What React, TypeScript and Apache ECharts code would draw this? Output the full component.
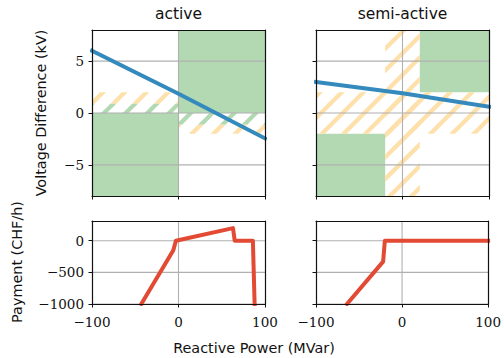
import React, { useEffect, useRef } from "react";
import * as echarts from "echarts";

const xTicks = [-100, 0, 100];
const voltTicks = [-5, 0, 5];
const payTicks = [-1000, -500, 0];
const xGridValues = [0];
const panelTitles = ["active", "semi-active"];
const xAxisTitle = "Reactive Power (MVar)";
const voltTitle = "Voltage Difference (kV)";
const payTitle = "Payment (CHF/h)";

// rectangles as [x0, x1, y0, y1]
const activeGreen = [[0, 100, 0, 8], [-100, 0, -8, 0]];
const activeHatchOrange = [[-100, 0, 0.9, 2], [0, 100, -2, -1.1]];
const activeHatchGreen = [[-100, 0, 0, 0.9], [0, 100, -1.1, 0]];
const semiGreen = [[20, 100, 2, 8], [-100, -20, -8, -2]];
const semiHatchOrange = [[-20, 20, -8, 8], [-100, 100, -2, 2]];

const activeVoltage = [[-100, 6.0], [0, 1.85], [100, -2.45]];
const semiVoltage = [[-100, 3.0], [0, 1.9], [100, 0.6]];
const activePayment = [[-43, -1000], [-6, -150], [-3, 0], [63, 200], [65, 0], [86, 0], [88, -1000]];
const semiPayment = [[-64, -1000], [-22, -330], [-20, 0], [100, 0]];

const GREEN = "#b3d9b3";
const ORANGE = "#fee0aa";
const BLUE = "#348ABD";
const RED = "#E24A33";
const GRIDC = "#b0b0b0";
const INK = "#111111";

const L1 = 92, L2 = 316, W = 173, T1 = 30, H1 = 166, T2 = 221, H2 = 83;
const P = 21.7, HW = 3;

const fmt = (v: number) => String(v).replace("-", "\u2212");

function clipPoly(poly: number[][], f: (p: number[]) => number) {
  const out: number[][] = [];
  for (let i = 0; i < poly.length; i++) {
    const a = poly[i];
    const b = poly[(i + 1) % poly.length];
    const fa = f(a), fb = f(b);
    if (fa >= 0 && fb >= 0) out.push(b);
    else if (fa >= 0 && fb < 0) {
      const t = fa / (fa - fb);
      out.push([a[0] + t * (b[0] - a[0]), a[1] + t * (b[1] - a[1])]);
    } else if (fa < 0 && fb >= 0) {
      const t = fa / (fa - fb);
      out.push([a[0] + t * (b[0] - a[0]), a[1] + t * (b[1] - a[1])]);
      out.push(b);
    }
  }
  return out;
}

function fillSeries(data: number[][], color: string, idx: number) {
  return {
    type: "custom",
    xAxisIndex: idx,
    yAxisIndex: idx,
    z: 1,
    silent: true,
    encode: { x: [0, 1], y: [2, 3] },
    data,
    renderItem: (_p: any, api: any) => {
      const a = api.coord([api.value(0), api.value(3)]);
      const b = api.coord([api.value(1), api.value(2)]);
      return {
        type: "rect",
        shape: { x: a[0], y: a[1], width: b[0] - a[0], height: b[1] - a[1] },
        style: { fill: color },
      };
    },
  };
}

function hatchSeries(data: number[][], color: string, idx: number) {
  return {
    type: "custom",
    xAxisIndex: idx,
    yAxisIndex: idx,
    z: 1,
    silent: true,
    encode: { x: [0, 1], y: [2, 3] },
    data,
    renderItem: (_p: any, api: any) => {
      const a = api.coord([api.value(0), api.value(3)]);
      const b = api.coord([api.value(1), api.value(2)]);
      const Lx = a[0], Ty = a[1], Rx = b[0], By = b[1];
      const rect = [[Lx, Ty], [Rx, Ty], [Rx, By], [Lx, By]];
      const children: any[] = [];
      const k0 = Math.floor((Lx + Ty - HW) / P);
      const k1 = Math.ceil((Rx + By + HW) / P);
      for (let k = k0; k <= k1; k++) {
        const c = k * P;
        let poly = clipPoly(rect, (p) => p[0] + p[1] - (c - HW));
        poly = clipPoly(poly, (p) => c + HW - (p[0] + p[1]));
        if (poly.length >= 3) {
          children.push({ type: "polygon", shape: { points: poly }, style: { fill: color } });
        }
      }
      return { type: "group", children };
    },
  };
}

function hGridSeries(vals: number[], idx: number) {
  return {
    type: "custom",
    xAxisIndex: idx,
    yAxisIndex: idx,
    z: 2,
    silent: true,
    data: vals.map((v) => [0, v]),
    renderItem: (params: any, api: any) => {
      const y = api.coord([0, api.value(1)])[1];
      const cs = params.coordSys;
      return {
        type: "line",
        shape: { x1: cs.x, y1: y, x2: cs.x + cs.width, y2: y },
        style: { stroke: GRIDC, lineWidth: 1.1 },
      };
    },
  };
}

function vGridSeries(vals: number[], idx: number) {
  return {
    type: "custom",
    xAxisIndex: idx,
    yAxisIndex: idx,
    z: 2,
    silent: true,
    data: vals.map((v) => [v, 0]),
    renderItem: (params: any, api: any) => {
      const x = api.coord([api.value(0), 0])[0];
      const cs = params.coordSys;
      return {
        type: "line",
        shape: { x1: x, y1: cs.y, x2: x, y2: cs.y + cs.height },
        style: { stroke: GRIDC, lineWidth: 1.1 },
      };
    },
  };
}

function lineSeries(data: number[][], color: string, idx: number) {
  return {
    type: "line",
    xAxisIndex: idx,
    yAxisIndex: idx,
    z: 3,
    data,
    showSymbol: false,
    symbol: "none",
    clip: true,
    lineStyle: { color, width: 4, join: "round", cap: "square" },
    silent: true,
  };
}

const labelStyle = { fontFamily: "'DejaVu Serif', serif", fontSize: 13.5, color: INK };

function bottomX(gi: number, show: boolean) {
  return {
    gridIndex: gi,
    type: "value",
    min: -100,
    max: 100,
    interval: 100,
    position: "bottom",
    z: 10,
    axisLine: { show: true, onZero: false, lineStyle: { color: INK, width: 1.2 } },
    axisTick: { show: true, length: 3.5, lineStyle: { color: INK, width: 1 }, customValues: xTicks },
    axisLabel: { show: show, formatter: fmt, margin: 11, customValues: xTicks, ...labelStyle },
    splitLine: { show: false },
  };
}
function topX(gi: number) {
  return {
    gridIndex: gi,
    type: "value",
    min: -100,
    max: 100,
    position: "top",
    z: 10,
    axisLine: { show: true, onZero: false, lineStyle: { color: INK, width: 1.2 } },
    axisTick: { show: false },
    axisLabel: { show: false },
    splitLine: { show: false },
  };
}
function leftY(gi: number, min: number, max: number, ticks: number[], show: boolean) {
  return {
    gridIndex: gi,
    type: "value",
    min,
    max,
    position: "left",
    z: 10,
    axisLine: { show: true, onZero: false, lineStyle: { color: INK, width: 1.2 } },
    axisTick: { show: true, length: 3.5, lineStyle: { color: INK, width: 1 }, customValues: ticks },
    axisLabel: { show: show, formatter: fmt, margin: 8, customValues: ticks, ...labelStyle },
    splitLine: { show: false },
  };
}
function rightY(gi: number, min: number, max: number) {
  return {
    gridIndex: gi,
    type: "value",
    min,
    max,
    position: "right",
    z: 10,
    axisLine: { show: true, onZero: false, lineStyle: { color: INK, width: 1.2 } },
    axisTick: { show: false },
    axisLabel: { show: false },
    splitLine: { show: false },
  };
}

export default function App() {
  const ref = useRef<HTMLDivElement>(null);
  useEffect(() => {
    if (!ref.current) return;
    const chart = echarts.init(ref.current, null, { renderer: "svg" });
    const sans = "DejaVu Sans";
    const option: any = {
      animation: false,
      backgroundColor: "#ffffff",
      grid: [
        { left: L1, top: T1, width: W, height: H1 },
        { left: L2, top: T1, width: W, height: H1 },
        { left: L1, top: T2, width: W, height: H2 },
        { left: L2, top: T2, width: W, height: H2 },
      ],
      xAxis: [
        bottomX(0, false), bottomX(1, false), bottomX(2, true), bottomX(3, true),
        topX(0), topX(1), topX(2), topX(3),
      ],
      yAxis: [
        leftY(0, -8, 8, voltTicks, true),
        leftY(1, -8, 8, voltTicks, false),
        leftY(2, -1000, 312, payTicks, true),
        leftY(3, -1000, 312, payTicks, false),
        rightY(0, -8, 8), rightY(1, -8, 8), rightY(2, -1000, 312), rightY(3, -1000, 312),
      ],
      series: [
        fillSeries(activeGreen, GREEN, 0),
        hatchSeries(activeHatchOrange, ORANGE, 0),
        hatchSeries(activeHatchGreen, GREEN, 0),
        fillSeries(semiGreen, GREEN, 1),
        hatchSeries(semiHatchOrange, ORANGE, 1),
        hGridSeries(voltTicks, 0),
        vGridSeries(xGridValues, 0),
        hGridSeries(voltTicks, 1),
        vGridSeries(xGridValues, 1),
        hGridSeries(payTicks, 2),
        vGridSeries(xGridValues, 2),
        hGridSeries(payTicks, 3),
        vGridSeries(xGridValues, 3),
        lineSeries(activeVoltage, BLUE, 0),
        lineSeries(semiVoltage, BLUE, 1),
        lineSeries(activePayment, RED, 2),
        lineSeries(semiPayment, RED, 3),
      ],
      graphic: [
        { type: "text", x: L1 + W / 2, y: 14, style: { text: panelTitles[0], align: "center", verticalAlign: "middle", font: `15.5px "${sans}"`, fill: INK } },
        { type: "text", x: L2 + W / 2, y: 14, style: { text: panelTitles[1], align: "center", verticalAlign: "middle", font: `15.5px "${sans}"`, fill: INK } },
        { type: "text", x: 254, y: 348, style: { text: xAxisTitle, align: "center", verticalAlign: "middle", font: `14.4px "${sans}"`, fill: INK } },
        { type: "text", x: 41, y: 113, rotation: Math.PI / 2, style: { text: voltTitle, align: "center", verticalAlign: "middle", font: `14.4px "${sans}"`, fill: INK } },
        { type: "text", x: 17, y: 262, rotation: Math.PI / 2, style: { text: payTitle, align: "center", verticalAlign: "middle", font: `14.4px "${sans}"`, fill: INK } },
      ],
    };
    chart.setOption(option);
    return () => chart.dispose();
  }, []);
  return <div ref={ref} style={{ position: "absolute", left: 0, top: 0, width: 504, height: 358 }} />;
}
